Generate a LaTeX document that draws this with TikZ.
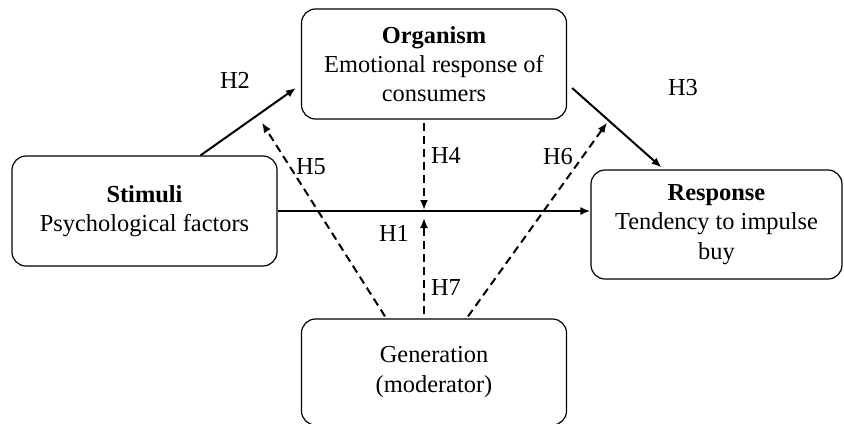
\documentclass[tikz,border=0pt]{standalone}
\usepackage{fontspec}
\setmainfont{Liberation Serif}
\usetikzlibrary{arrows.meta, calc}

\tikzset{
  box/.style={draw, rounded corners=7pt, line width=0.6pt, align=center,
    minimum width=132.5pt, minimum height=55pt, inner sep=0pt},
  solidarr/.style={line width=1pt, -{Latex[length=5pt,width=4pt]}},
  dasharr/.style={line width=1pt, dash pattern=on 4pt off 2.5pt, -{Latex[length=5pt,width=4pt]}}
}

\begin{document}
\begin{tikzpicture}[x=0.5pt, y=-0.5pt, every node/.style={font=\fontsize{12.2}{14.6}\selectfont}]
\useasboundingbox (0,0) rectangle (844,423);
\node[box] (org) at (434,64) {\textbf{Organism}\\Emotional response of\\consumers};
\node[box] (stim) at (144.5,211) {\textbf{Stimuli}\\Psychological factors};
\node[box, minimum width=125.5pt, minimum height=54.5pt] (resp) at (716.5,224.5) {\textbf{Response}\\Tendency to impulse\\buy};
\node[box, minimum height=53pt] (gen) at (434,372) {Generation\\(moderator)};
\coordinate (meet) at ($(stim.east -| org.south)+(-10,0)$);
\draw[solidarr] (stim.east) -- (stim.east -| resp.west);
\draw[solidarr] ($(stim.north)+(56,0)$) -- ($(org.west)+(-5,24)$);
\draw[solidarr] ($(org.east)+(5,24)$) -- ($(resp.north)+(-55,-2)$);
\draw[dasharr] ($(org.south)+(-10,3)$) -- ($(meet)+(0,-1)$);
\draw[dasharr] ($(gen.north)+(-10,-4)$) -- ($(meet)+(0,7)$);
\draw[dasharr] ($(gen.north)+(-49,-2)$) -- ($(org.south west)+(-39,3)$);
\draw[dasharr] ($(gen.north)+(34,-2)$) -- ($(org.south east)+(40,3)$);
\node (h1) at (394,233) {H1};
\node (h2) at (235,80) {H2};
\node (h3) at (683,88) {H3};
\node (h4) at (446,155) {H4};
\node (h5) at (311,167) {H5};
\node (h6) at (558,157) {H6};
\node (h7) at (446,288) {H7};
\end{tikzpicture}
\end{document}
